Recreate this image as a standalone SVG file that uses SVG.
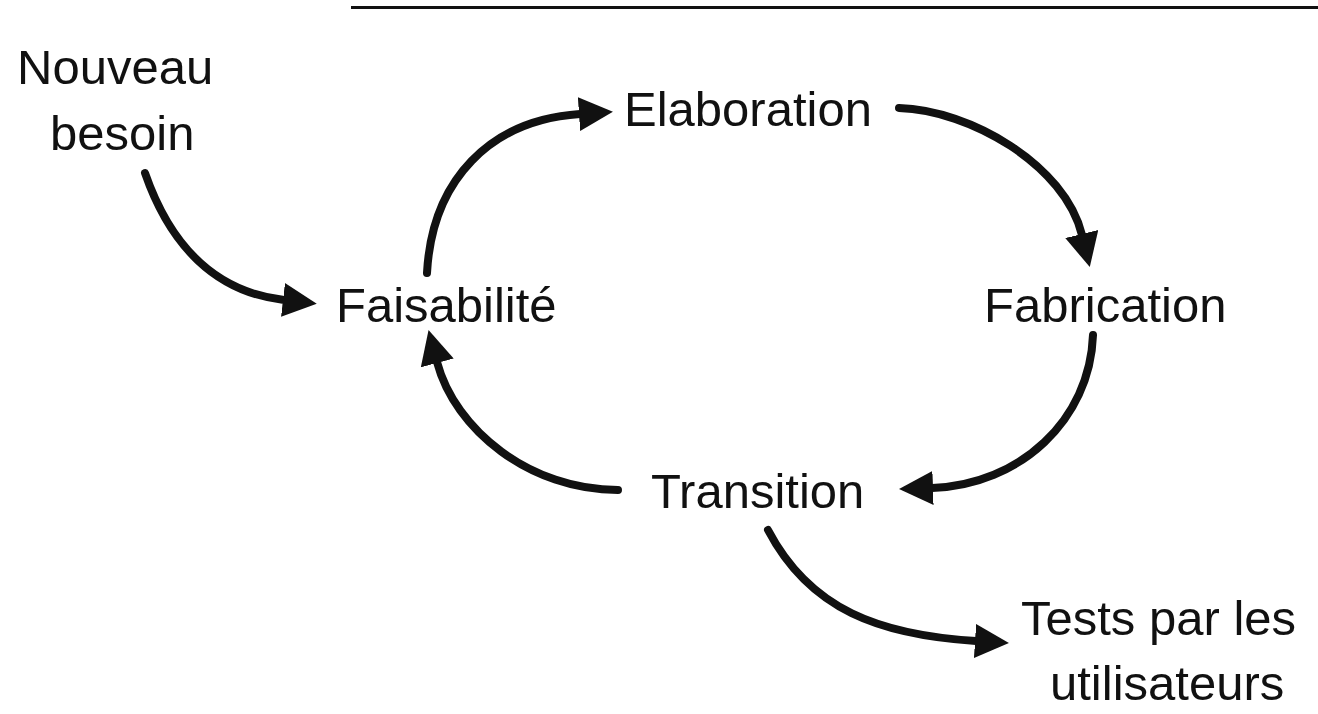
<svg xmlns="http://www.w3.org/2000/svg" width="1318" height="714" viewBox="0 0 1318 714">
  <defs>
    <style>
      .lbl { font-family: "Liberation Sans", Arial, Helvetica, sans-serif; font-size: 49px; fill: #111; }
      .arr { fill: none; stroke: #111; stroke-width: 8; stroke-linecap: round; marker-end: url(#ah); }
    </style>
    <marker id="ah" markerUnits="userSpaceOnUse" viewBox="0 0 34 34" refX="1" refY="17" markerWidth="34" markerHeight="34" orient="auto">
      <path d="M0,0 L34,17 L0,34 Z" fill="#111"/>
    </marker>
  </defs>
  <rect width="1318" height="714" fill="#fff"/>
  <line x1="351" y1="7.5" x2="1318" y2="7.5" stroke="#111" stroke-width="3"/>
  <g id="connectors">
    <path class="arr" d="M145,173 C170,245 215,292 284,300"/>
    <path class="arr" d="M427,273 C432,180 490,120 580,114"/>
    <path class="arr" d="M899,108 C970,110 1065,165 1082,235"/>
    <path class="arr" d="M1093,335 C1090,420 1020,485 932,488"/>
    <path class="arr" d="M618,490 C530,490 455,430 437,362"/>
    <path class="arr" d="M768,530 C810,610 880,635 976,641"/>
  </g>
  <g id="nouveau"><text class="lbl" x="17" y="84">Nouveau</text><text class="lbl" x="50" y="150">besoin</text></g>
  <g id="faisabilite"><text class="lbl" x="336" y="322">Faisabilité</text></g>
  <g id="elaboration"><text class="lbl" x="624" y="126">Elaboration</text></g>
  <g id="fabrication"><text class="lbl" x="984" y="322">Fabrication</text></g>
  <g id="transition"><text class="lbl" x="651" y="508">Transition</text></g>
  <g id="tests"><text class="lbl" x="1021" y="635">Tests par les</text><text class="lbl" x="1050" y="700">utilisateurs</text></g>
</svg>
